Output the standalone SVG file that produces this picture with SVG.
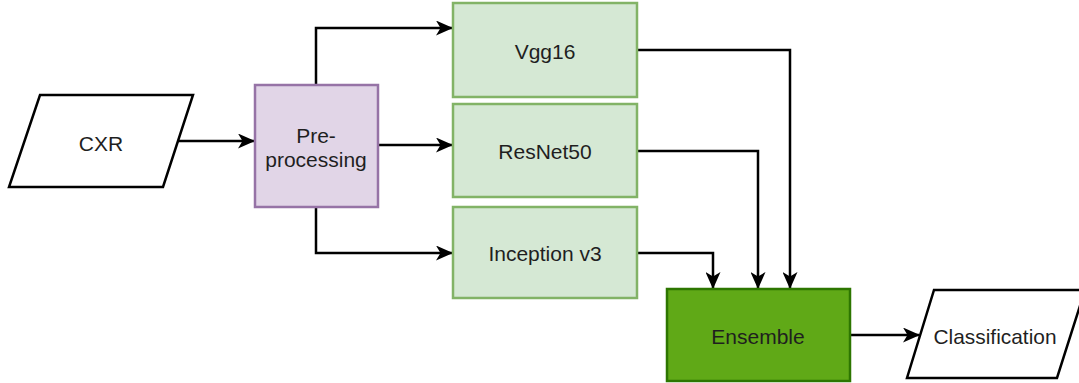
<svg xmlns="http://www.w3.org/2000/svg" width="1079" height="383" viewBox="0 0 1079 383">
  <style>
    .lbl { font-family: "Liberation Sans", Arial, sans-serif; font-size: 21px; fill: #1f1f1f; text-anchor: middle; }
    .io { fill: #ffffff; stroke: #000000; stroke-width: 2.5; }
    .model { fill: #d5e8d4; stroke: #82b366; stroke-width: 2.5; }
    .prep { fill: #e1d5e7; stroke: #9673a6; stroke-width: 2.5; }
    .ens { fill: #60a917; stroke: #2d7600; stroke-width: 2.5; }
    .edge { fill: none; stroke: #000000; stroke-width: 2.5; marker-end: url(#arrow); }
  </style>
  <defs>
    <marker id="arrow" viewBox="0 0 17 15" refX="16" refY="7.5" markerWidth="17" markerHeight="15" markerUnits="userSpaceOnUse" orient="auto">
      <path d="M0,0 L17,7.5 L0,15 L4.5,7.5 z" fill="#000000"/>
    </marker>
  </defs>
  <rect width="1079" height="383" fill="#ffffff"/>

  <g id="connectors">
    <path class="edge" d="M178,141 L254,141"/>
    <path class="edge" d="M316,85 L316,28 L452,28"/>
    <path class="edge" d="M378,145 L452,145"/>
    <path class="edge" d="M316,207 L316,253 L452,253"/>
    <path class="edge" d="M637,50 L790,50 L790,288"/>
    <path class="edge" d="M637,151 L758,151 L758,288"/>
    <path class="edge" d="M637,253 L713,253 L713,288"/>
    <path class="edge" d="M850,335 L919,335"/>
  </g>

  <g id="cxr">
    <polygon class="io" points="40,95 193,95 163,187 9,187"/>
    <text class="lbl" x="101" y="151">CXR</text>
  </g>

  <g id="preprocessing">
    <rect class="prep" x="255" y="85" width="123" height="122"/>
    <text class="lbl" x="316" y="143">Pre-</text>
    <text class="lbl" x="316" y="167">processing</text>
  </g>

  <g id="vgg16">
    <rect class="model" x="453" y="3" width="184" height="94"/>
    <text class="lbl" x="545" y="59">Vgg16</text>
  </g>

  <g id="resnet50">
    <rect class="model" x="453" y="104" width="184" height="93"/>
    <text class="lbl" x="545" y="159">ResNet50</text>
  </g>

  <g id="inception-v3">
    <rect class="model" x="453" y="207" width="184" height="91"/>
    <text class="lbl" x="545" y="261">Inception v3</text>
  </g>

  <g id="ensemble">
    <rect class="ens" x="667" y="289" width="183" height="92"/>
    <text class="lbl" x="758" y="344">Ensemble</text>
  </g>

  <g id="classification">
    <polygon class="io" points="934,290 1085,290 1057,378 907,378"/>
    <text class="lbl" x="995" y="344" textLength="123" lengthAdjust="spacingAndGlyphs">Classification</text>
  </g>
</svg>
